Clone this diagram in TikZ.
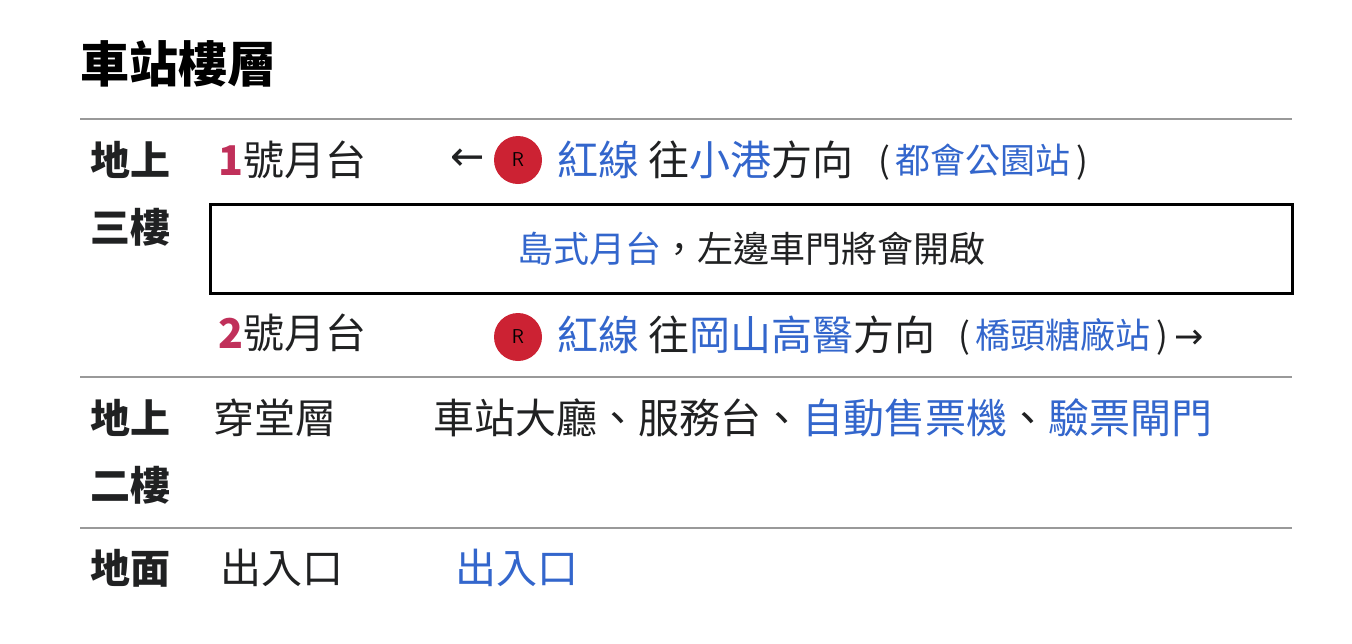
\documentclass[tikz,border=0pt]{standalone}
\usepackage{fontspec}
\setmainfont{Noto Sans CJK TC}
\newfontfamily\djfont{DejaVu Sans}
\definecolor{lk}{HTML}{3366CC}
\definecolor{tx}{HTML}{202122}
\definecolor{rd}{HTML}{CC2233}
\definecolor{nm}{HTML}{C0305A}
\begin{document}
\begin{tikzpicture}[x=1pt,y=-1pt,
  t/.style={anchor=west,inner sep=0,text=tx,font=\fontsize{41}{41}\selectfont},
  h/.style={anchor=west,inner sep=0,text=tx,font=\fontsize{40}{40}\selectfont\bfseries},
  s/.style={anchor=west,inner sep=0,text=tx,font=\fontsize{35}{35}\selectfont},
  rule/.style={draw=gray!80,line width=1.2pt}]
\useasboundingbox (0,0) rectangle (1352,643);
\node[anchor=west,inner sep=0,text=black,font=\fontsize{49}{49}\selectfont\bfseries] (title) at (80,64) {車站樓層};
\coordinate (l1a) at (80,119); \coordinate (l1b) at (1292,119);
\coordinate (l2a) at (80,377); \coordinate (l2b) at (1292,377);
\coordinate (l3a) at (80,528); \coordinate (l3b) at (1292,528);
\draw[rule] (l1a)--(l1b); \draw[rule] (l2a)--(l2b); \draw[rule] (l3a)--(l3b);
% floor 3
\node[h] (f3a) at (90,160) {地上};
\node[h] (f3b) at (90,227) {三樓};
\node[t] (p1) at (218,160) {\textcolor{nm}{\textbf{1}}號月台};
\node[t] (arl) at (450,160) {\djfont ←};
\node[circle,fill=rd,minimum size=48pt,inner sep=0,font=\sffamily\fontsize{20}{20}\selectfont] (r1) at (518,160) {R};
\node[t] (d1) at (557,160) {\textcolor{lk}{紅線} 往\textcolor{lk}{小港}方向};
\node[s] (q1) at (878,162) {(\,\textcolor{lk}{都會公園站}\,)};
\node[draw=black,line width=3pt,minimum width=1082pt,minimum height=89pt,inner sep=0,anchor=north west] (box) at (209,203) {};
\node[anchor=center,inner sep=0,text=tx,font=\fontsize{36}{36}\selectfont] (bt) at (box.center) {\textcolor{lk}{島式月台}，左邊車門將會開啟};
\node[t] (p2) at (218,333) {\textcolor{nm}{\textbf{2}}號月台};
\node[circle,fill=rd,minimum size=48pt,inner sep=0,font=\sffamily\fontsize{20}{20}\selectfont] (r2) at (518,337) {R};
\node[t] (d2) at (557,335) {\textcolor{lk}{紅線} 往\textcolor{lk}{岡山高醫}方向};
\node[s] (q2) at (958,337) {(\,\textcolor{lk}{橋頭糖廠站}\,)\,{\djfont →}};
% floor 2
\node[h] (f2a) at (90,418) {地上};
\node[h] (f2b) at (90,485) {二樓};
\node[t] (c) at (213,418) {穿堂層};
\node[t] (cd) at (433,418) {車站大廳、服務台、\textcolor{lk}{自動售票機}、\textcolor{lk}{驗票閘門}};
% ground
\node[h] (f1) at (90,568) {地面};
\node[t] (e) at (220,568) {出入口};
\node[t,text=lk] (e2) at (455,568) {出入口};
\end{tikzpicture}
\end{document}
